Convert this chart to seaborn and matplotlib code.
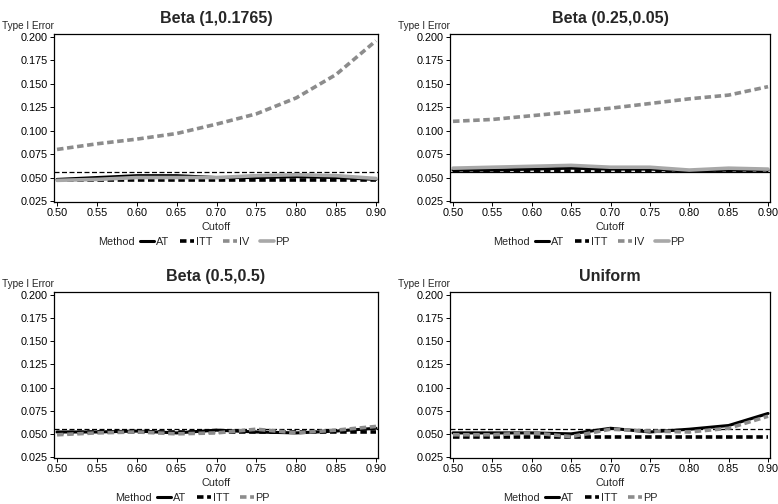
import matplotlib
matplotlib.use("Agg")
import matplotlib.pyplot as plt
import seaborn as sns
import pandas as pd
from matplotlib.lines import Line2D

sns.set_style("ticks")
plt.rcParams['font.family'] = ['Liberation Sans', 'DejaVu Sans']

cutoff = [0.50, 0.55, 0.60, 0.65, 0.70, 0.75, 0.80, 0.85, 0.90]
ref_level = 0.0555

titles = ["Beta (1,0.1765)", "Beta (0.25,0.05)", "Beta (0.5,0.5)", "Uniform"]

tl_AT = [0.048, 0.050, 0.052, 0.052, 0.050, 0.050, 0.051, 0.050, 0.048]
tl_ITT = [0.047, 0.047, 0.047, 0.047, 0.047, 0.047, 0.047, 0.047, 0.047]
tl_IV = [0.080, 0.086, 0.091, 0.097, 0.107, 0.118, 0.135, 0.160, 0.196]
tl_PP = [0.047, 0.048, 0.050, 0.050, 0.050, 0.052, 0.053, 0.052, 0.049]

tr_AT = [0.058, 0.058, 0.059, 0.060, 0.059, 0.059, 0.057, 0.058, 0.058]
tr_ITT = [0.057, 0.057, 0.057, 0.057, 0.057, 0.057, 0.057, 0.057, 0.057]
tr_IV = [0.110, 0.112, 0.116, 0.120, 0.124, 0.129, 0.134, 0.138, 0.147]
tr_PP = [0.060, 0.061, 0.062, 0.063, 0.061, 0.061, 0.058, 0.060, 0.059]

bl_AT = [0.052, 0.052, 0.053, 0.051, 0.054, 0.052, 0.051, 0.053, 0.056]
bl_ITT = [0.051, 0.052, 0.052, 0.052, 0.052, 0.052, 0.052, 0.052, 0.052]
bl_PP = [0.049, 0.051, 0.052, 0.050, 0.051, 0.055, 0.051, 0.054, 0.058]

br_AT = [0.051, 0.051, 0.051, 0.050, 0.056, 0.052, 0.055, 0.059, 0.072]
br_ITT = [0.047, 0.047, 0.047, 0.047, 0.047, 0.047, 0.047, 0.047, 0.047]
br_PP = [0.049, 0.049, 0.051, 0.047, 0.055, 0.053, 0.052, 0.056, 0.069]

panels = [
    {"AT": tl_AT, "ITT": tl_ITT, "IV": tl_IV, "PP": tl_PP},
    {"AT": tr_AT, "ITT": tr_ITT, "IV": tr_IV, "PP": tr_PP},
    {"AT": bl_AT, "ITT": bl_ITT, "PP": bl_PP},
    {"AT": br_AT, "ITT": br_ITT, "PP": br_PP},
]

# SAS-like style cycle: (color, dashes, linewidth)
styles = [("black", "", 2.2), ("black", (1.8, 1.0), 2.6),
          ("#8c8c8c", (1.8, 1.0), 2.6), ("#a8a8a8", "", 2.6)]

W, H = 778, 504
fig = plt.figure(figsize=(W / 100, H / 100), dpi=100)

boxes = [(54, 378, 34, 202), (450, 770, 34, 202),
         (54, 378, 292, 458), (450, 770, 292, 458)]
method_x = [98, 493, 115, 503]

yticks = [0.025, 0.050, 0.075, 0.100, 0.125, 0.150, 0.175, 0.200]
xticks = cutoff
FS = 7.8

for i, (box, title, pdata) in enumerate(zip(boxes, titles, panels)):
    l, r, t, b = box
    ax = fig.add_axes([l / W, 1 - b / H, (r - l) / W, (b - t) / H])
    methods = list(pdata.keys())
    rows = []
    for m in methods:
        for x, y in zip(cutoff, pdata[m]):
            rows.append({"Cutoff": x, "Err": y, "Method": m})
    df = pd.DataFrame(rows)
    ref_style = (0, (4, 2)) if i != 1 else "-"
    ax.axhline(ref_level, color="black", lw=0.9, ls=ref_style, zorder=1)
    for k, m in enumerate(methods):
        sub = df[df["Method"] == m]
        sns.lineplot(data=sub, x="Cutoff", y="Err", color=styles[k][0],
                     lw=styles[k][2], ax=ax, legend=False, zorder=2 + k)
        line = ax.lines[-1]
        if styles[k][1]:
            line.set_dashes(styles[k][1])
    ax.set_xlim(0.4962, 0.9025)
    ax.set_ylim(0.0239, 0.2032)
    ax.set_xticks(xticks)
    ax.set_xticklabels([f"{v:.2f}" for v in xticks])
    ax.set_yticks(yticks)
    ax.set_yticklabels([f"{v:.3f}" for v in yticks])
    ax.tick_params(axis="both", labelsize=FS, length=3, width=0.7, pad=1.5,
                   colors="black")
    for sp in ax.spines.values():
        sp.set_color("black")
        sp.set_linewidth(0.9)
    ax.set_xlabel("Cutoff", fontsize=FS, labelpad=3)
    ax.set_ylabel("")
    ax.set_title(title, fontsize=11.5, fontweight="bold", pad=8)
    fig.text((l - 52) / W, 1 - (t - 8) / H, "Type I Error", fontsize=7.2,
             ha="left", va="center")
    handles = []
    for k in range(len(methods)):
        h = Line2D([], [], color=styles[k][0], lw=styles[k][2])
        if styles[k][1]:
            h.set_dashes(styles[k][1])
        handles.append(h)
    leg_y = b + 40
    mx = method_x[i]
    fig.text(mx / W, 1 - leg_y / H, "Method", fontsize=FS, ha="left",
             va="center")
    fig.legend(handles, methods, loc="center left",
               bbox_to_anchor=((mx + 42) / W, 1 - leg_y / H),
               ncol=len(methods), frameon=False, fontsize=FS,
               handlelength=1.3, handletextpad=0.15, columnspacing=1.0,
               borderpad=0, borderaxespad=0)

fig.savefig("out.png", dpi=100)
